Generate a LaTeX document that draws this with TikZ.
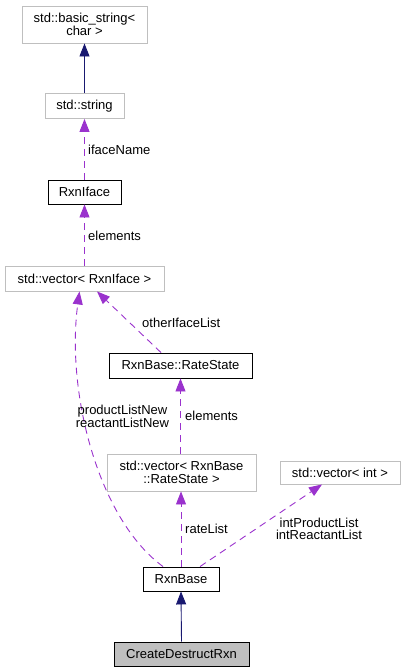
\documentclass[tikz,border=0pt]{standalone}
\usepackage{fontspec}
\setmainfont{Liberation Sans}
\usetikzlibrary{arrows.meta}
\definecolor{edgepurple}{HTML}{9A32CD}
\definecolor{edgenavy}{HTML}{191970}
\definecolor{extgray}{HTML}{BFBFBF}
\tikzset{
  cls/.style={draw, line width=0.9pt, inner sep=0pt, align=center,
    font=\fontsize{13}{13.5}\selectfont},
  extcls/.style={cls, draw=extgray},
  doccls/.style={cls, draw=black},
  curcls/.style={cls, draw=black, fill=extgray},
  inherit/.style={draw=edgenavy, line width=0.9pt,
    -{Triangle[length=13pt,width=10pt,fill=edgenavy]}},
  usage/.style={draw=edgepurple, line width=0.9pt, dash pattern=on 7pt off 5pt,
    -{Triangle[length=13pt,width=10pt,fill=edgepurple]}},
  lbl/.style={font=\fontsize{13}{12.5}\selectfont, inner sep=0pt, align=center}
}
\begin{document}
\begin{tikzpicture}[x=1pt,y=-1pt]
\useasboundingbox (0,0) rectangle (406,672);
\node[extcls, minimum width=125pt, minimum height=37pt] (bstr) at (84.5,24.5) {std::basic\_string<\\char >};
\node[extcls, minimum width=79pt, minimum height=25pt] (str) at (84.5,106) {std::string};
\node[doccls, minimum width=73pt, minimum height=24pt] (iface) at (84.5,192) {RxnIface};
\node[extcls, minimum width=159pt, minimum height=25pt] (vecif) at (84.5,278.5) {std::vector< RxnIface >};
\node[doccls, minimum width=143pt, minimum height=25pt] (rate) at (180.5,365.5) {RxnBase::RateState};
\node[extcls, minimum width=149pt, minimum height=37pt] (vecrate) at (181.5,472.5) {std::vector< RxnBase\\::RateState >};
\node[extcls, minimum width=120pt, minimum height=23pt] (vecint) at (340,472.5) {std::vector< int >};
\node[doccls, minimum width=76pt, minimum height=24pt] (base) at (181,579) {RxnBase};
\node[curcls, minimum width=135pt, minimum height=24pt] (cdr) at (181.5,654) {CreateDestructRxn};

\draw[inherit] (str.north) -- (bstr.south);
\draw[usage] (iface.north) -- (str.south);
\draw[usage] (vecif.north) -- (iface.south);
\draw[usage] ([xshift=-19.5pt]rate.north) -- ([xshift=12.5pt]vecif.south);
\draw[usage] ([xshift=-18pt]base.north) .. controls (97,518) and (66,390) .. ([xshift=-5pt]vecif.south);
\draw[usage] (vecrate.north -| rate.south) -- (rate.south);
\draw[usage] (base.north) -- (base.north |- vecrate.south);
\draw[usage] ([xshift=19pt]base.north) -- ([xshift=-18pt]vecint.south);
\draw[inherit] (cdr.north) -- (base.south);

\node[lbl, anchor=west] (l1) at (88,150) {ifaceName};
\node[lbl, anchor=west] (l2) at (88,236) {elements};
\node[lbl, anchor=west] (l3) at (142,323) {otherIfaceList};
\node[lbl] (l4) at (122.5,416.5) {productListNew\\reactantListNew};
\node[lbl, anchor=west] (l5) at (185,416) {elements};
\node[lbl, anchor=west] (l6) at (185,529) {rateList};
\node[lbl] (l7) at (319,529) {intProductList\\intReactantList};
\end{tikzpicture}
\end{document}
